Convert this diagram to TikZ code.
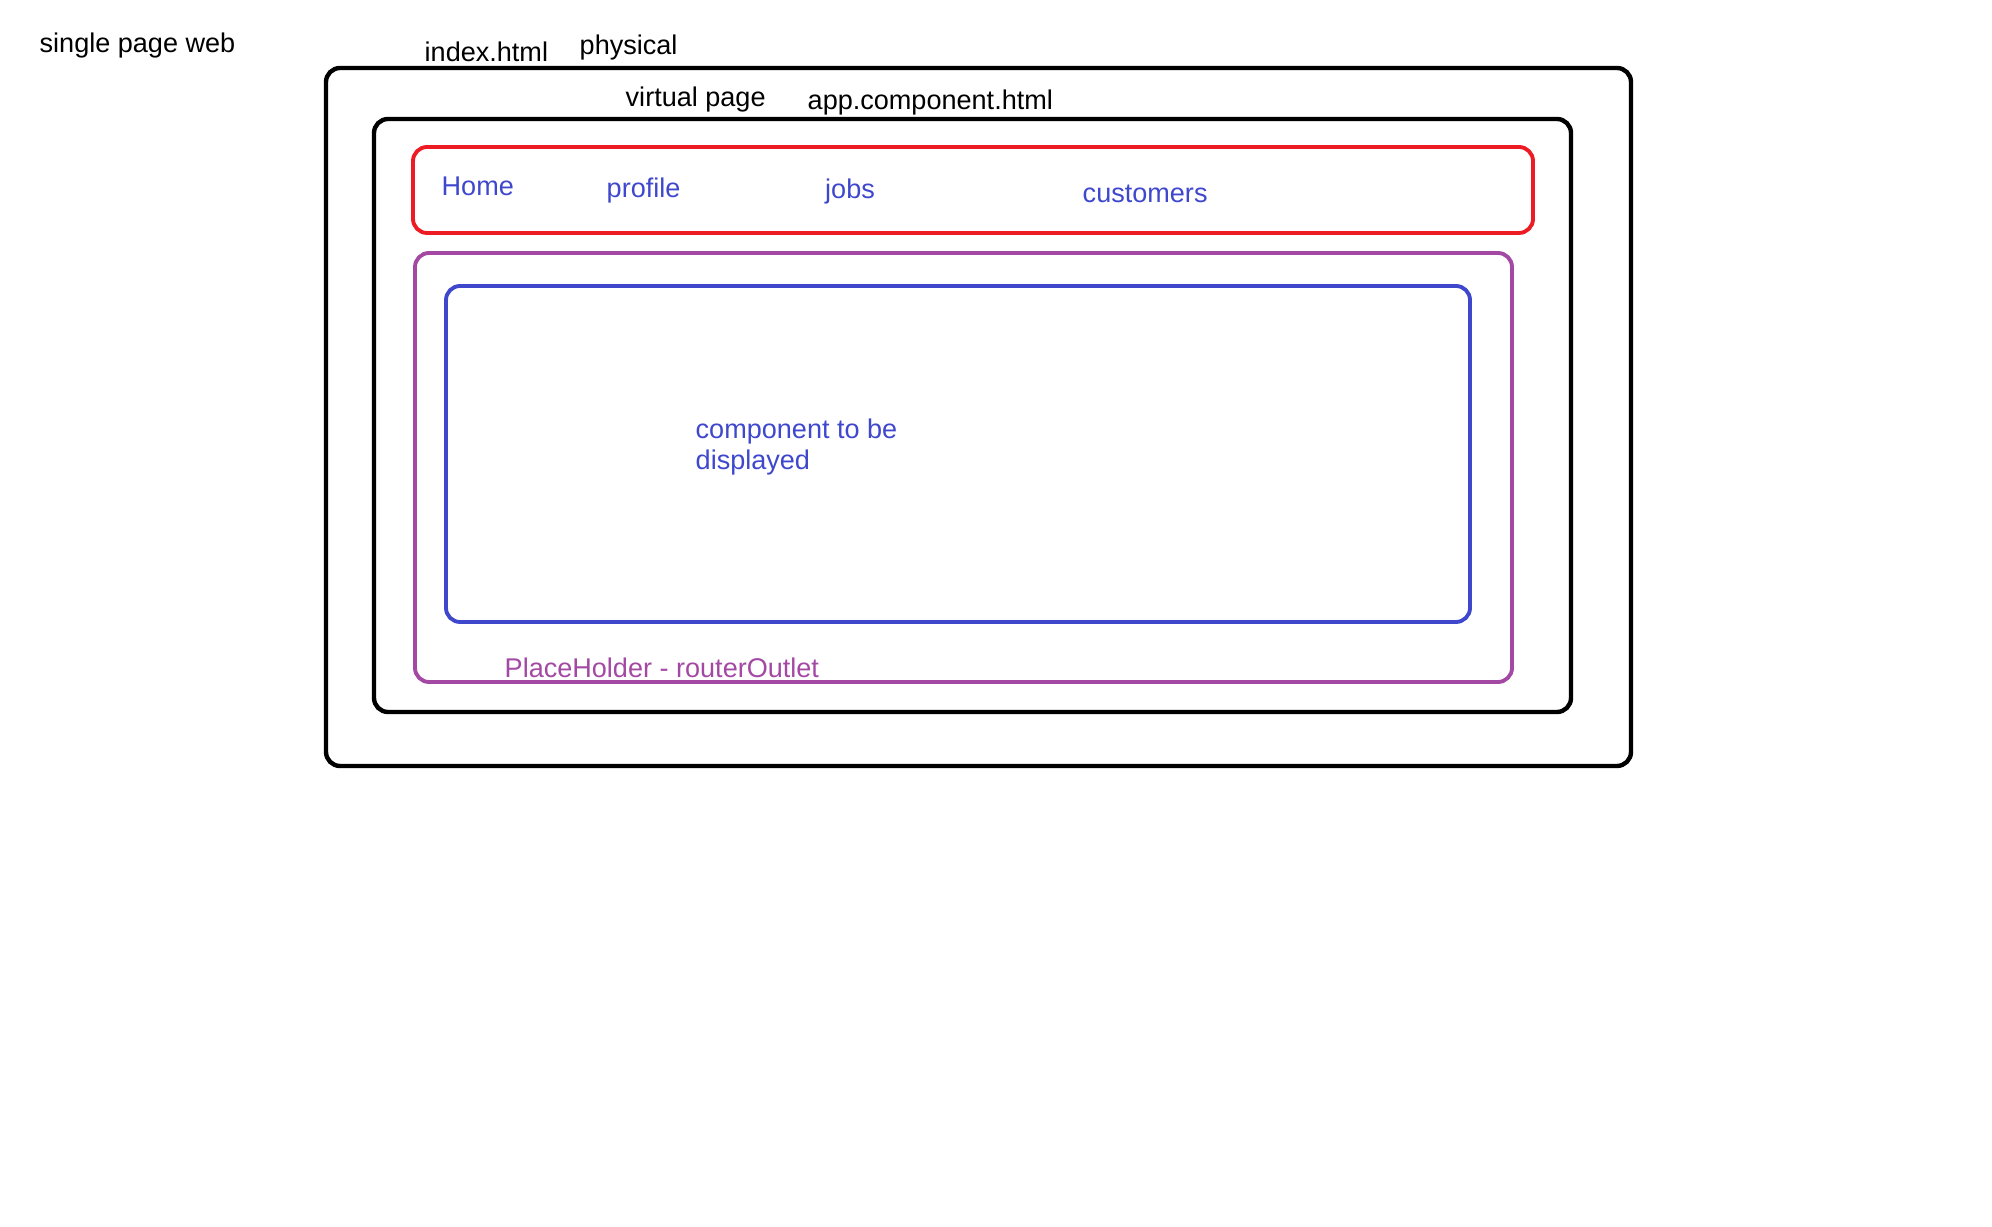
\documentclass[tikz,border=0pt]{standalone}
\usepackage{fontspec}
\setmainfont{Liberation Sans}
\usetikzlibrary{positioning}
\definecolor{navred}{HTML}{ED1C24}
\definecolor{outletpurple}{HTML}{A349A4}
\definecolor{compblue}{HTML}{3F48CC}
\tikzset{
  pagebox/.style ={draw=black,line width=1.25pt,rounded corners=4pt},
  colbox/.style  ={line width=1.1pt,rounded corners=4pt},
  txt/.style     ={anchor=base west,inner sep=0pt,font=\fontsize{7.7}{9.1}\selectfont},
  link/.style    ={txt,text=compblue},
}
\begin{document}
\begin{tikzpicture}
  \useasboundingbox (0,0) rectangle (19.92,12.27);
  % frames
  \draw[pagebox] (3.26,11.59) rectangle (16.31,4.61);
  \draw[pagebox] (3.74,11.08) rectangle (15.71,5.15);
  \draw[colbox,draw=navred] (4.13,10.80) rectangle (15.33,9.94);
  \draw[colbox,draw=outletpurple] (4.15,9.74) rectangle (15.12,5.45);
  \draw[colbox,draw=compblue] (4.46,9.41) rectangle (14.70,6.05);
  % labels
  \node[txt] (spa) at (0.39,11.74){single page web};
  \node[txt] (idx) at (4.24,11.65){index.html}; \node[txt] (phy) at (5.79,11.72){physical};
  \node[txt] (virt) at (6.25,11.20){virtual page}; \node[txt] (app) at (8.07,11.17){app.component.html};
  \node[link] (home) at (4.41,10.31){Home}; \node[link] (prof) at (6.06,10.29){profile};
  \node[link] (jobs) at (8.245,10.28){jobs}; \node[link] (cust) at (10.82,10.24){customers};
  \node[link,align=left] (comp) at (6.95,7.57){component to be\\displayed};
  \node[txt,text=outletpurple] (outlet) at (5.04,5.49){PlaceHolder - routerOutlet};
\end{tikzpicture}
\end{document}
